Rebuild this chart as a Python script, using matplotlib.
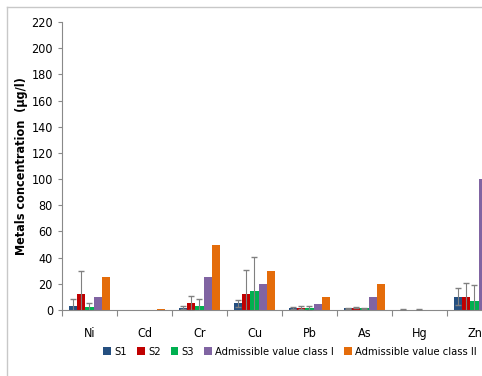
import matplotlib

matplotlib.use("Agg")

import matplotlib.pyplot as plt
import numpy as np
from matplotlib.lines import Line2D

metals = ["Ni", "Cd", "Cr", "Cu", "Pb", "As", "Hg", "Zn"]

s1 = [3.0, 0.0, 1.8, 5.0, 1.8, 1.3, 0.3, 10.2]
s2 = [12.0, 0.0, 5.1, 12.5, 1.8, 1.8, 0.0, 10.0]
s3 = [2.0, 0.0, 2.8, 14.3, 1.5, 1.3, 0.3, 7.0]
s1_err = [5.6, 0.0, 1.2, 2.6, 0.8, 0.3, 0.3, 6.4]
s2_err = [18.0, 0.0, 5.4, 17.8, 1.0, 0.5, 0.0, 10.6]
s3_err = [3.0, 0.0, 5.6, 26.4, 1.5, 0.3, 0.3, 12.0]
class_1 = [10, 0, 25, 20, 4.5, 10, 0, 100]
class_2 = [25, 1, 50, 30, 10, 20, 0, 200]

series_names = ["S1", "S2", "S3", "Admissible value class I", "Admissible value class II"]
colors = ["#254F80", "#C00000", "#00B050", "#8064A2", "#E46C0A"]

plt.rcParams["font.family"] = ["DejaVu Sans"]
plt.rcParams["font.stretch"] = "condensed"

fig = plt.figure(figsize=(4.82, 3.76), dpi=100)
# outer chart frame (only left and top edges are visible in the crop)
fig.lines.append(Line2D([7 / 482, 7 / 482], [0, 1 - 7 / 376], transform=fig.transFigure,
                        color="#c8c8c8", linewidth=1.0))
fig.lines.append(Line2D([7 / 482, 1], [1 - 7 / 376, 1 - 7 / 376], transform=fig.transFigure,
                        color="#c8c8c8", linewidth=1.0))

ax = fig.add_axes([62 / 482, 1 - 310 / 376, 440 / 482, 288 / 376])

x = np.arange(len(metals))
width = 0.151
values = [s1, s2, s3, class_1, class_2]
errors = [s1_err, s2_err, s3_err, None, None]

for i, (vals, err, color, name) in enumerate(zip(values, errors, colors, series_names)):
    pos = x + (i - 2) * width
    ax.bar(pos, vals, width=width, color=color, label=name, zorder=2)
    if err is not None:
        err = np.array(err)
        keep = err > 0
        eb = ax.errorbar(pos[keep], np.array(vals)[keep], yerr=err[keep], fmt="none",
                         ecolor="#808080", elinewidth=0.8, capsize=2.5, capthick=1.0, zorder=3)
        for cap in eb[1]:
            cap.set_color("#333333")

ax.set_xlim(-0.5, len(metals) - 0.5)
ax.set_ylim(0, 220)
ax.set_yticks(np.arange(0, 221, 20))
ax.set_xticks(x)
ax.set_xticklabels(metals)
ax.set_xticks(np.arange(-0.5, len(metals)), minor=True)
ax.tick_params(axis="x", which="major", length=0, pad=12, labelsize=9)
ax.tick_params(axis="x", which="minor", length=4, color="#898989", width=0.8)
ax.tick_params(axis="y", length=3, color="#898989", width=0.8, labelsize=9)

for side in ["top", "right"]:
    ax.spines[side].set_visible(False)
for side in ["left", "bottom"]:
    ax.spines[side].set_color("#898989")
    ax.spines[side].set_linewidth(0.8)

ax.set_ylabel("Metals concentration  (µg/l)", fontsize=9, fontweight="bold")
ax.yaxis.set_label_coords((28 - 62) / 440, 0.5)

ax.legend(loc="center", bbox_to_anchor=(290 / 482, 1 - 352 / 376), bbox_transform=fig.transFigure,
          ncol=5, frameon=False, fontsize=8, handlelength=0.7, handleheight=0.7,
          handletextpad=0.3, columnspacing=0.9)

fig.savefig("out.png", dpi=100)
